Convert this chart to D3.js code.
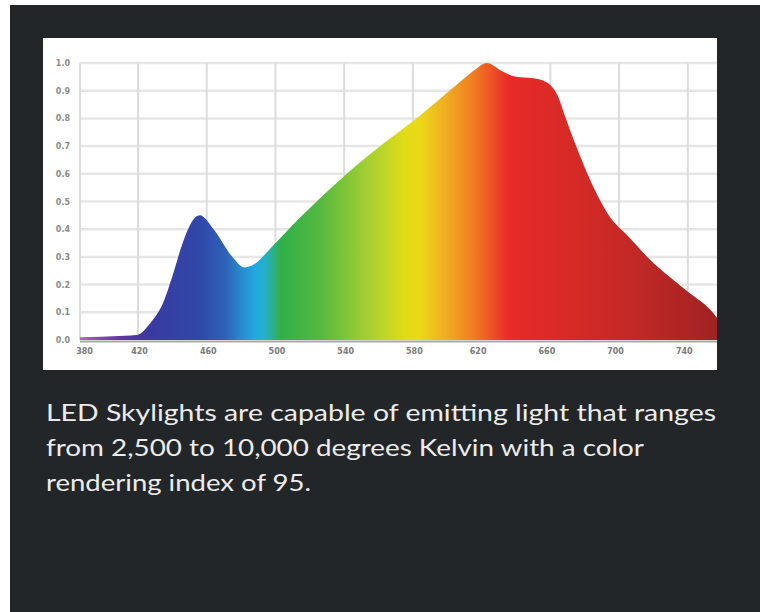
<!DOCTYPE html>
<html><head><meta charset="utf-8">
<script src="https://cdn.jsdelivr.net/npm/d3@7"></script>
<style>html,body{margin:0;padding:0;background:#fff;} svg{display:block}</style>
</head><body><svg id="c" width="760" height="612"></svg>
<script>
// ---- data ----
const wavelengths = [380,394,411,419,427,435,440,446,453,456,464,475,482,488,497,514,537,561,584,607,616,623,632,640,650,658,664,669,675,683,694,706,718,729,741,753,757];
const intensity   = [0.01,0.012,0.015,0.018,0.06,0.14,0.23,0.35,0.44,0.45,0.40,0.30,0.262,0.275,0.33,0.44,0.575,0.70,0.81,0.93,0.975,1.0,0.97,0.95,0.945,0.93,0.885,0.80,0.70,0.58,0.45,0.37,0.29,0.23,0.17,0.11,0.08];
const xTickLabels = [380,420,460,500,540,580,620,660,700,740];
const yTickLabels = [0,0.1,0.2,0.3,0.4,0.5,0.6,0.7,0.8,0.9,1.0];
const caption = [
  "LED Skylights are capable of emitting light that ranges",
  "from 2,500 to 10,000 degrees Kelvin with a color",
  "rendering index of 95."
];
// spectrum colour stops (wavelength -> colour)
const spectrumNm    = [380,394,411,427,456,471,479,488,494,503,526,555,575,584,601,616,628,636,677,712,757];
const spectrumColor = ["#b565b5","#8a45a8","#5a35a0","#3a3aa0","#3048a8","#2e62b8","#2a85cc","#22a8e0","#25b0c8","#30b048","#55b840","#a8d030","#e0dc18","#ecd818","#f0a822","#f07a22","#ec4a26","#e82a28","#d42a26","#c02826","#a02222"];

(function(){
// ---- layout ----
const svg = d3.select("#c");
svg.append("rect").attr("x",10).attr("y",5).attr("width",750).attr("height",607).attr("fill","#232629");
const panel = {x:43, y:38, w:674, h:332};
svg.append("rect").attr("x",panel.x).attr("y",panel.y).attr("width",panel.w).attr("height",panel.h).attr("fill","#fff");

const pL = 80, pR = 717, pT = 63, pB = 340;
const x = d3.scaleLinear().domain([380,420,757]).range([pL,138,717]);
const y = d3.scaleLinear().domain([0,1]).range([pB,pT]);

const defs = svg.append("defs");
defs.append("clipPath").attr("id","clip").append("rect")
  .attr("x",pL).attr("y",panel.y).attr("width",pR-pL).attr("height",pB-panel.y+2);
const grad = defs.append("linearGradient").attr("id","spec")
  .attr("gradientUnits","userSpaceOnUse").attr("x1",pL).attr("x2",pR).attr("y1",0).attr("y2",0);
spectrumNm.forEach((nm,i)=>{
  grad.append("stop").attr("offset",(x(nm)-pL)/(pR-pL)).attr("stop-color",spectrumColor[i]);
});

// grid
const g = svg.append("g");
g.selectAll("line.h").data(yTickLabels.filter(d=>d>0)).join("line")
  .attr("x1",pL).attr("x2",pR).attr("y1",d=>y(d)).attr("y2",d=>y(d))
  .attr("stroke","#e6e6e6").attr("stroke-width",2.5);
g.selectAll("line.v").data(xTickLabels).join("line")
  .attr("x1",d=>Math.max(pL,x(d))).attr("x2",d=>Math.max(pL,x(d))).attr("y1",pT).attr("y2",pB)
  .attr("stroke","#dcdcdc").attr("stroke-width",2);

// area
const pts = wavelengths.map((w,i)=>({w, v:intensity[i]}));
const area = d3.area().x(d=>x(d.w)).y0(y(0)).y1(d=>y(d.v)).curve(d3.curveMonotoneX);
svg.append("path").datum(pts).attr("clip-path","url(#clip)")
  .attr("d",area).attr("fill","url(#spec)");

// baseline
svg.append("line").attr("x1",pL).attr("x2",pR).attr("y1",pB+1.5).attr("y2",pB+1.5)
  .attr("stroke","#a8a8a8").attr("stroke-width",2);

// axes labels
const axY = d3.axisLeft(y).tickValues(yTickLabels).tickSize(0).tickPadding(0).tickFormat(d3.format(".1f"));
const gy = svg.append("g").attr("transform",`translate(${pL-10},0)`).call(axY);
gy.select(".domain").remove();
gy.selectAll("text").attr("font-family","DejaVu Sans").attr("font-size",8).attr("font-weight","bold").attr("fill","#8a8a8a");

const axX = d3.axisBottom(x).tickValues(xTickLabels).tickSize(0).tickPadding(0).tickFormat(d3.format("d"));
const gx = svg.append("g").attr("transform",`translate(0,${pB+8})`).call(axX);
gx.select(".domain").remove();
gx.selectAll("text").attr("font-family","DejaVu Sans").attr("font-size",8).attr("font-weight","bold").attr("fill","#7a7a7a")
  .attr("x",d=>d===380?4:(d>=620?-4:1));

// caption
const capW = [670, 598, 265];
svg.selectAll("text.cap").data(caption).join("text").attr("class","cap")
  .attr("x",46).attr("y",(d,i)=>421+i*35)
  .attr("font-family","Lato").attr("font-size",24).attr("fill","#ececec")
  .attr("textLength",(d,i)=>capW[i]).attr("lengthAdjust","spacingAndGlyphs")
  .text(d=>d);
})();
</script></body></html>
